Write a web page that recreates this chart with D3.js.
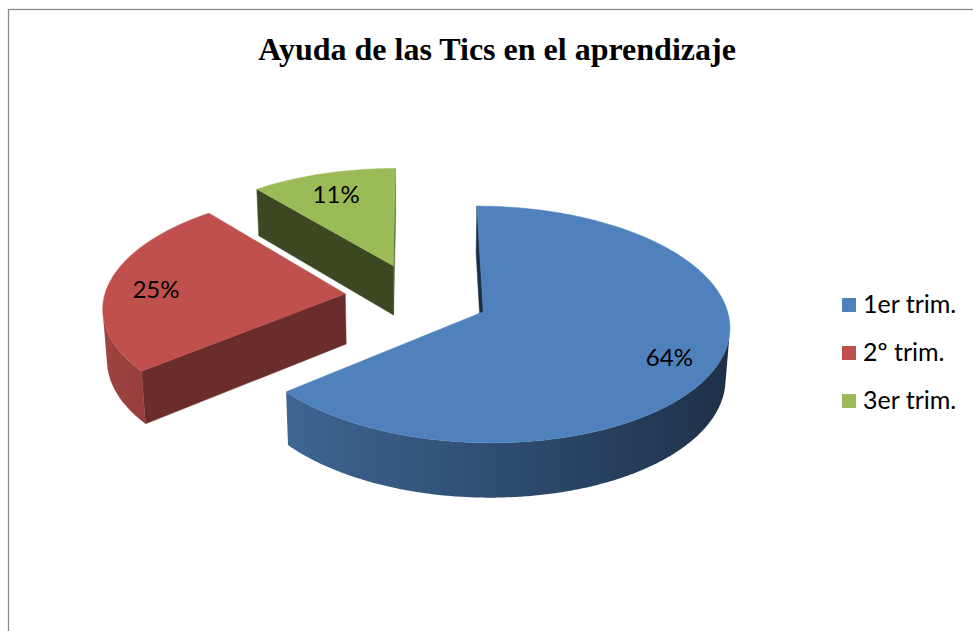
<!DOCTYPE html>
<html>
<head>
<meta charset="utf-8">
<script src="https://cdn.jsdelivr.net/npm/d3@7"></script>
<style>
  html, body { margin: 0; padding: 0; background: #fff; }
  svg { display: block; }
</style>
</head>
<body>
<svg id="chart" width="973" height="631"></svg>
<script>
// ---- data ----
const title = "Ayuda de las Tics en el aprendizaje";
const categories = ["1er trim.", "2º trim.", "3er trim."];
const values = [64, 25, 11];
const colors = ["#4F81BD", "#C0504D", "#9BBB59"];

// ---- setup ----
const svg = d3.select("#chart");
const defs = svg.append("defs");

// chart frame (top and left edges visible)
svg.append("rect")
  .attr("x", 8.5).attr("y", 9.5)
  .attr("width", 1000).attr("height", 700)
  .attr("fill", "#fff")
  .attr("stroke", "#8a8a8a").attr("stroke-width", 1.3);

svg.append("text")
  .attr("x", 497).attr("y", 60)
  .attr("text-anchor", "middle")
  .attr("font-family", "'Liberation Serif', 'Times New Roman', serif")
  .attr("font-weight", "bold")
  .attr("font-size", 32)
  .attr("fill", "#000")
  .text(title);

// ---- 3D projection ----
const cam = { cx: 417, cy: 297, f: 2000, D: 8.3, alpha: 28.2 * Math.PI / 180 };
const thick = 0.24, explode = 0.3;
const sA = Math.sin(cam.alpha), cA = Math.cos(cam.alpha);
const camPos = [0, cam.D * sA, cam.D * cA];
const rScale = d3.scaleLinear().domain([0, 1]).range([0, 1]);

function proj(X, Y, Z) {
  const depth = Y * sA + Z * cA;
  const up = Y * cA - Z * sA;
  const dist = cam.D - depth;
  return [cam.cx + cam.f * X / dist, cam.cy - cam.f * up / dist];
}
function camDist(X, Y, Z) {
  return Math.hypot(X - camPos[0], Y - camPos[1], Z - camPos[2]);
}
function shade(col, k) {
  const c = d3.rgb(col);
  return d3.rgb(c.r * k, c.g * k, c.b * k).formatHex();
}
function facing(nrm, P) {
  const v = [camPos[0] - P[0], camPos[1] - P[1], camPos[2] - P[2]];
  return nrm[0] * v[0] + nrm[1] * v[1] + nrm[2] * v[2] > 0;
}

const pie = d3.pie().sort(null).value(d => d).startAngle(0).endAngle(2 * Math.PI);
const arcs = pie(values);
const total = d3.sum(values);
const line = d3.line();
let gradId = 0;

const slices = arcs.map((a, i) => {
  const mid = (a.startAngle + a.endAngle) / 2;
  const ox = explode * Math.sin(mid), oz = -explode * Math.cos(mid);
  const pt = (t, r, Y) => [ox + rScale(r) * Math.sin(t), Y, oz - rScale(r) * Math.cos(t)];
  const faces = [];
  const n = Math.max(2, Math.ceil((a.endAngle - a.startAngle) / (Math.PI / 360)));
  const ts = d3.range(n + 1).map(k => a.startAngle + (a.endAngle - a.startAngle) * k / n);
  // outer side: contiguous visible runs -> one path each with gradient
  let run = [];
  const runs = [];
  for (let k = 0; k <= n; k++) {
    const t = ts[k];
    const vis = facing([Math.sin(t), 0, -Math.cos(t)], pt(t, 1, -thick / 2));
    if (vis) run.push(t);
    else if (run.length) { runs.push(run); run = []; }
  }
  if (run.length) runs.push(run);
  runs.forEach(r => {
    if (r.length < 2) return;
    const topP = r.map(t => proj(...pt(t, 1, 0)));
    const botP = r.map(t => proj(...pt(t, 1, -thick)));
    const xs = topP.map(p => p[0]);
    const x0 = d3.min(xs), x1 = d3.max(xs);
    const id = "side" + (gradId++);
    const gr = defs.append("linearGradient").attr("id", id)
      .attr("gradientUnits", "userSpaceOnUse")
      .attr("x1", x0).attr("x2", x1).attr("y1", 0).attr("y2", 0);
    const stops = r.map((t, k) => ({ o: (xs[k] - x0) / Math.max(1e-6, x1 - x0), c: shade(colors[i], 0.6 - 0.24 * Math.sin(t)) }))
      .sort((p, q) => p.o - q.o);
    stops.filter((s, k) => k % 4 === 0 || k === stops.length - 1).forEach(s =>
      gr.append("stop").attr("offset", s.o).attr("stop-color", s.c));
    const tm = r[Math.floor(r.length / 2)];
    faces.push({
      d: line(topP.concat(botP.reverse())) + "Z",
      fill: `url(#${id})`, stroke: "none",
      dist: camDist(...pt(tm, 1, -thick / 2))
    });
  });
  // radial faces
  [[a.startAngle, -1], [a.endAngle, 1]].forEach(([t, sgn]) => {
    const nrm = [sgn * Math.cos(t), 0, sgn * Math.sin(t)];
    const P = pt(t, 0.5, -thick / 2);
    if (!facing(nrm, P)) return;
    const q = [pt(t, 0, 0), pt(t, 1, 0), pt(t, 1, -thick), pt(t, 0, -thick)];
    const col = shade(colors[i], 0.48 + 0.12 * nrm[0]);
    faces.push({ d: line(q.map(p => proj(...p))) + "Z", fill: col, stroke: col, dist: camDist(...P) });
  });
  faces.sort((p, q) => q.dist - p.dist);
  const top = [pt(0, 0, 0)].concat(ts.map(t => pt(t, 1, 0)));
  const center = pt(0, 0, 0);
  return { i, a, mid, faces, top, pt, dist: camDist(center[0], 0, center[2]) };
});

const g = svg.append("g");
slices.slice().sort((p, q) => q.dist - p.dist).forEach(s => {
  const sg = g.append("g");
  s.faces.forEach(fc => {
    sg.append("path")
      .attr("d", fc.d)
      .attr("fill", fc.fill)
      .attr("stroke", fc.stroke).attr("stroke-width", 0.5)
      .attr("stroke-linejoin", "round");
  });
  sg.append("path")
    .attr("d", line(s.top.map(p => proj(...p))) + "Z")
    .attr("fill", colors[s.i])
    .attr("stroke", colors[s.i]).attr("stroke-width", 0.5);
});

// data labels
slices.forEach(s => {
  const p = proj(...s.pt(s.mid, 0.8, 0));
  svg.append("text")
    .attr("x", p[0]).attr("y", p[1] + 3)
    .attr("text-anchor", "middle")
    .attr("dominant-baseline", "central")
    .attr("font-family", "Lato, 'Open Sans', sans-serif")
    .attr("font-size", 24)
    .attr("fill", "#000")
    .text(Math.round(values[s.i] / total * 100) + "%");
});

// legend
const legend = svg.append("g").attr("transform", "translate(842,298)");
categories.forEach((c, i) => {
  const row = legend.append("g").attr("transform", `translate(0,${i * 48})`);
  row.append("rect").attr("width", 14).attr("height", 14).attr("fill", colors[i]);
  row.append("text")
    .attr("x", 21).attr("y", 15)
    .attr("font-family", "Lato, 'Open Sans', sans-serif")
    .attr("font-size", 25)
    .attr("fill", "#000")
    .text(c);
});
</script>
</body>
</html>
